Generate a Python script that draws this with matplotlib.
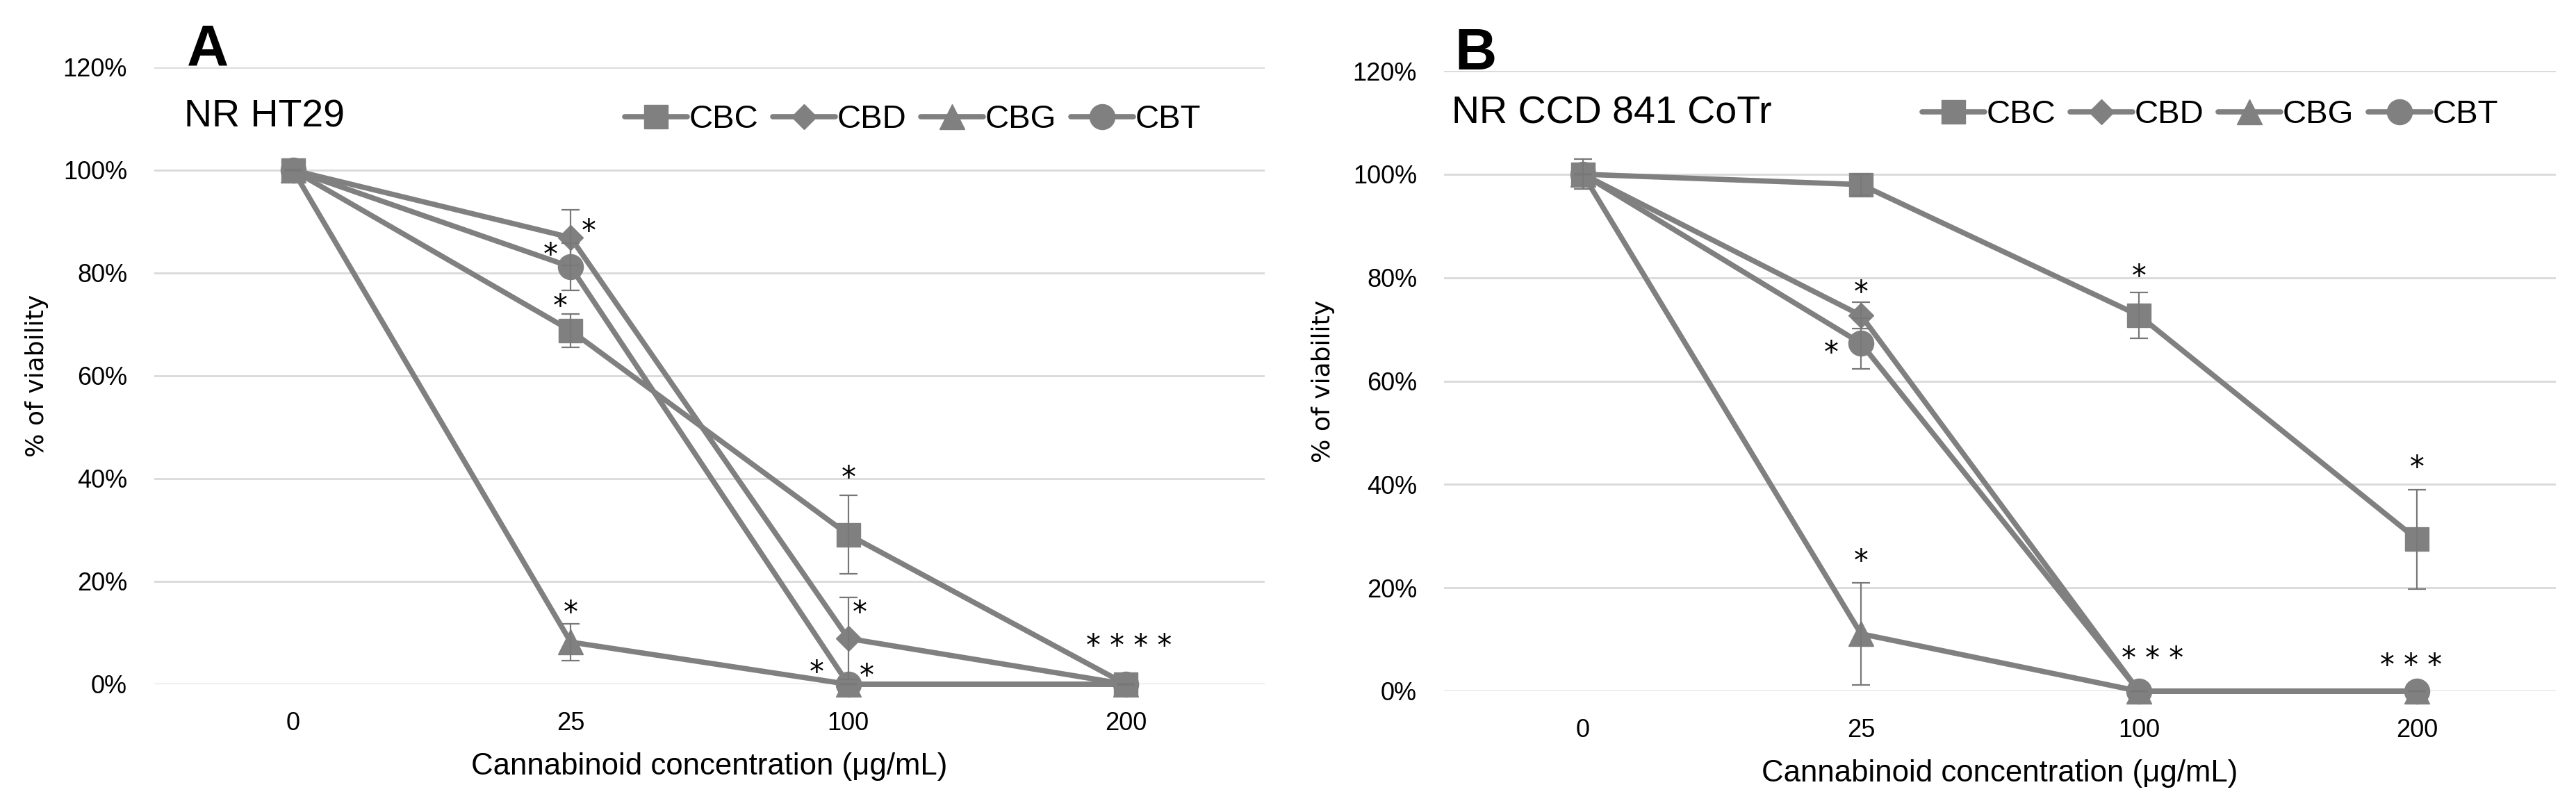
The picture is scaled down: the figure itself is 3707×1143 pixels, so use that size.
import numpy as np
import matplotlib
matplotlib.use("Agg")
import matplotlib.pyplot as plt

plt.rcParams['font.family'] = ['Liberation Sans', 'DejaVu Sans']

# categories on the x axis
concentrations = ['0', '25', '100', '200']
series_names = ['CBC', 'CBD', 'CBG', 'CBT']
series_markers = ['s', 'D', '^', 'o']

# Panel A - NR HT29 (% viability, mean and error)
a_cbc = [100, 68.8, 29.1, 0]
a_cbd = [100, 86.9, 8.9, 0]
a_cbg = [100, 8.2, 0, 0]
a_cbt = [100, 81.2, 0, 0]
a_cbc_err = [0, 3.2, 7.6, 0]
a_cbd_err = [0, 5.4, 8.0, 0]
a_cbg_err = [0, 3.6, 0, 0]
a_cbt_err = [0, 4.6, 0, 0]

# Panel B - NR CCD 841 CoTr
b_cbc = [100, 98.0, 72.7, 29.4]
b_cbd = [100, 72.7, 0, 0]
b_cbg = [100, 11.1, 0, 0]
b_cbt = [100, 67.3, 0, 0]
b_cbc_err = [2.9, 2.0, 4.4, 9.6]
b_cbd_err = [0, 2.5, 0, 0]
b_cbg_err = [0, 9.9, 0, 0]
b_cbt_err = [0, 4.9, 0, 0]

# significance marks: (category position, y centre, text)
a_stars_x = [1.065, 0.928, 0.962, 1.0, 2.0, 2.04, 1.885, 2.065, 3.01]
a_stars_y = [89.4, 84.8, 74.8, 15.2, 41.3, 15.2, 3.5, 2.8, 8.7]
a_stars_txt = ['*', '*', '*', '*', '*', '*', '*', '*', '* * * *']
b_stars_x = [1.0, 0.893, 1.0, 2.0, 2.05, 3.0, 2.98]
b_stars_y = [78.3, 66.6, 26.3, 81.5, 7.6, 44.5, 6.2]
b_stars_txt = ['*', '*', '*', '*', '* * *', '*', '* * *']

yticks = [0, 20, 40, 60, 80, 100, 120]

W, H = 3707, 1143
fig = plt.figure(figsize=(W / 100, H / 100), dpi=100)
axA = fig.add_axes([222 / W, (H - 985) / H, (1820 - 222) / W, (985 - 97) / H])
axB = fig.add_axes([2078 / W, (H - 995) / H, (3678 - 2078) / W, (995 - 102) / H])

line_col = '#808080'
sizes = {'s': 25, 'D': 18.5, '^': 26, 'o': 26}


def draw_panel(ax, values, errors, sx, sy, stxt, letter, title, letter_x, title_y, leg_anchor, ylab_x):
    x = np.arange(len(concentrations))
    for name, mk, v, e in zip(series_names, series_markers, values, errors):
        ln, = ax.plot(x, v, color=line_col, lw=5.5, marker=mk, ms=sizes[mk],
                      mec=line_col, mfc=line_col, label=name, zorder=3,
                      solid_capstyle='round')
        ln.set_clip_on(False)
        cont = ax.errorbar(x, v, yerr=e, fmt='none', ecolor='#787878',
                           elinewidth=1.6, capsize=9.5, capthick=1.6, zorder=4)
        for art in cont.get_children():
            art.set_clip_on(False)
    for xx, yy, t in zip(sx, sy, stxt):
        ax.annotate(t, (xx, yy), xytext=(0, -0.53 * 30), textcoords='offset points',
                    ha='center', va='baseline', fontsize=30, family='DejaVu Sans',
                    color='black', zorder=5)
    ax.set_xlim(-0.5, 3.5)
    ax.set_ylim(0, 120)
    ax.set_xticks(x)
    ax.set_xticklabels(concentrations)
    ax.set_yticks(yticks)
    ax.set_yticklabels([f'{t}%' for t in yticks])
    ax.tick_params(length=0, labelsize=26, pad=28)
    ax.grid(axis='y', color='#d9d9d9', lw=2)
    ax.set_axisbelow(True)
    for s in ax.spines.values():
        s.set_visible(False)
    ax.set_xlabel('Cannabinoid concentration (\u03bcg/mL)', fontsize=31.5)
    ax.xaxis.set_label_coords(0.5, -0.11)
    ax.set_ylabel('% of viability', fontsize=26, family='DejaVu Sans', va='center')
    ax.yaxis.set_label_coords(ylab_x, 0.5)
    ax.text(letter_x, 120.3, letter, fontsize=60, fontweight='bold', ha='left', va='baseline')
    ax.text(letter_x - 0.01, title_y, title, fontsize=40, ha='left', va='baseline')
    ax.legend(loc='center', bbox_to_anchor=leg_anchor, ncol=4, frameon=False,
              fontsize=34, handlelength=1.9, handletextpad=0.05, columnspacing=0.45)


draw_panel(axA, [a_cbc, a_cbd, a_cbg, a_cbt], [a_cbc_err, a_cbd_err, a_cbg_err, a_cbt_err],
           a_stars_x, a_stars_y, a_stars_txt, 'A', 'NR HT29', -0.383, 108.5,
           (0.683, 0.915), -0.106)
draw_panel(axB, [b_cbc, b_cbd, b_cbg, b_cbt], [b_cbc_err, b_cbd_err, b_cbg_err, b_cbt_err],
           b_stars_x, b_stars_y, b_stars_txt, 'B', 'NR CCD 841 CoTr', -0.462, 109.9,
           (0.689, 0.929), -0.109)

fig.savefig('out.png', dpi=100, facecolor='white')
